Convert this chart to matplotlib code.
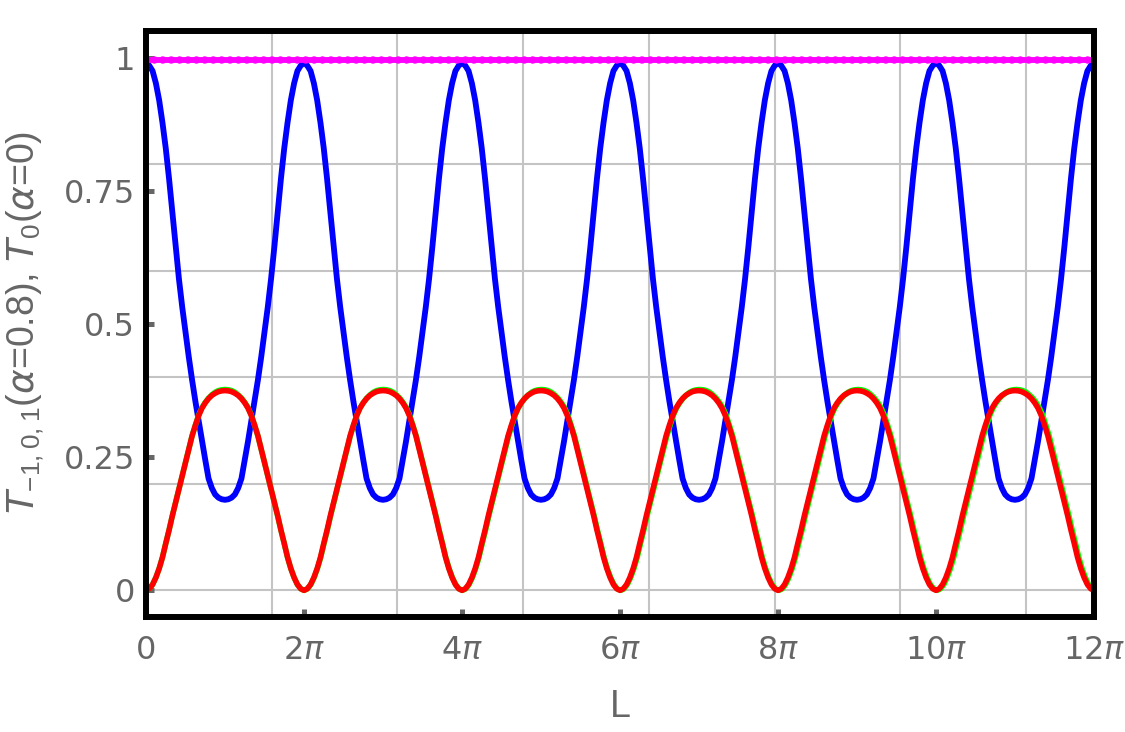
import numpy as np
import matplotlib
matplotlib.use("Agg")
import matplotlib.pyplot as plt
from matplotlib.ticker import FixedLocator, NullLocator

plt.rcParams['font.family'] = ['Liberation Sans', 'DejaVu Sans']
plt.rcParams['mathtext.fontset'] = 'custom'
plt.rcParams['mathtext.rm'] = 'Liberation Sans'
plt.rcParams['mathtext.it'] = 'DejaVu Sans:italic'
plt.rcParams['mathtext.bf'] = 'Liberation Sans:bold'

# ---------------- data ----------------
n_periods = 6
samples_per_period = 48
L = np.linspace(0, 12 * np.pi, n_periods * samples_per_period + 1)

blue_T = [
    0.99, 0.985, 0.975, 0.952, 0.92, 0.878, 0.83, 0.773, 0.71, 0.645, 0.585, 0.532, 0.485, 0.438, 0.395, 0.355, 0.318, 0.28, 0.245, 0.21, 0.192, 0.18, 0.174, 0.171, 0.17, 0.171, 0.174, 0.18, 0.192, 0.21, 0.245, 0.28, 0.318, 0.355, 0.395, 0.438, 0.485, 0.532, 0.585, 0.645, 0.71, 0.773, 0.83, 0.878, 0.92, 0.952, 0.975, 0.985,
    0.99, 0.985, 0.975, 0.952, 0.92, 0.878, 0.83, 0.773, 0.71, 0.645, 0.585, 0.532, 0.485, 0.438, 0.395, 0.355, 0.318, 0.28, 0.245, 0.21, 0.192, 0.18, 0.174, 0.171, 0.17, 0.171, 0.174, 0.18, 0.192, 0.21, 0.245, 0.28, 0.318, 0.355, 0.395, 0.438, 0.485, 0.532, 0.585, 0.645, 0.71, 0.773, 0.83, 0.878, 0.92, 0.952, 0.975, 0.985,
    0.99, 0.985, 0.975, 0.952, 0.92, 0.878, 0.83, 0.773, 0.71, 0.645, 0.585, 0.532, 0.485, 0.438, 0.395, 0.355, 0.318, 0.28, 0.245, 0.21, 0.192, 0.18, 0.174, 0.171, 0.17, 0.171, 0.174, 0.18, 0.192, 0.21, 0.245, 0.28, 0.318, 0.355, 0.395, 0.438, 0.485, 0.532, 0.585, 0.645, 0.71, 0.773, 0.83, 0.878, 0.92, 0.952, 0.975, 0.985,
    0.99, 0.985, 0.975, 0.952, 0.92, 0.878, 0.83, 0.773, 0.71, 0.645, 0.585, 0.532, 0.485, 0.438, 0.395, 0.355, 0.318, 0.28, 0.245, 0.21, 0.192, 0.18, 0.174, 0.171, 0.17, 0.171, 0.174, 0.18, 0.192, 0.21, 0.245, 0.28, 0.318, 0.355, 0.395, 0.438, 0.485, 0.532, 0.585, 0.645, 0.71, 0.773, 0.83, 0.878, 0.92, 0.952, 0.975, 0.985,
    0.99, 0.985, 0.975, 0.952, 0.92, 0.878, 0.83, 0.773, 0.71, 0.645, 0.585, 0.532, 0.485, 0.438, 0.395, 0.355, 0.318, 0.28, 0.245, 0.21, 0.192, 0.18, 0.174, 0.171, 0.17, 0.171, 0.174, 0.18, 0.192, 0.21, 0.245, 0.28, 0.318, 0.355, 0.395, 0.438, 0.485, 0.532, 0.585, 0.645, 0.71, 0.773, 0.83, 0.878, 0.92, 0.952, 0.975, 0.985,
    0.99, 0.985, 0.975, 0.952, 0.92, 0.878, 0.83, 0.773, 0.71, 0.645, 0.585, 0.532, 0.485, 0.438, 0.395, 0.355, 0.318, 0.28, 0.245, 0.21, 0.192, 0.18, 0.174, 0.171, 0.17, 0.171, 0.174, 0.18, 0.192, 0.21, 0.245, 0.28, 0.318, 0.355, 0.395, 0.438, 0.485, 0.532, 0.585, 0.645, 0.71, 0.773, 0.83, 0.878, 0.92, 0.952, 0.975, 0.985,
    0.99,
]

red_T = [
    0.0, 0.003, 0.011, 0.024, 0.041, 0.062, 0.088, 0.113, 0.14, 0.165, 0.19, 0.215, 0.24, 0.265, 0.29, 0.31, 0.328, 0.342, 0.352, 0.36, 0.366, 0.37, 0.373, 0.3745, 0.375, 0.3745, 0.373, 0.37, 0.366, 0.36, 0.352, 0.342, 0.328, 0.31, 0.29, 0.265, 0.24, 0.215, 0.19, 0.165, 0.14, 0.113, 0.088, 0.062, 0.041, 0.024, 0.011, 0.003,
    0.0, 0.003, 0.011, 0.024, 0.041, 0.062, 0.088, 0.113, 0.14, 0.165, 0.19, 0.215, 0.24, 0.265, 0.29, 0.31, 0.328, 0.342, 0.352, 0.36, 0.366, 0.37, 0.373, 0.3745, 0.375, 0.3745, 0.373, 0.37, 0.366, 0.36, 0.352, 0.342, 0.328, 0.31, 0.29, 0.265, 0.24, 0.215, 0.19, 0.165, 0.14, 0.113, 0.088, 0.062, 0.041, 0.024, 0.011, 0.003,
    0.0, 0.003, 0.011, 0.024, 0.041, 0.062, 0.088, 0.113, 0.14, 0.165, 0.19, 0.215, 0.24, 0.265, 0.29, 0.31, 0.328, 0.342, 0.352, 0.36, 0.366, 0.37, 0.373, 0.3745, 0.375, 0.3745, 0.373, 0.37, 0.366, 0.36, 0.352, 0.342, 0.328, 0.31, 0.29, 0.265, 0.24, 0.215, 0.19, 0.165, 0.14, 0.113, 0.088, 0.062, 0.041, 0.024, 0.011, 0.003,
    0.0, 0.003, 0.011, 0.024, 0.041, 0.062, 0.088, 0.113, 0.14, 0.165, 0.19, 0.215, 0.24, 0.265, 0.29, 0.31, 0.328, 0.342, 0.352, 0.36, 0.366, 0.37, 0.373, 0.3745, 0.375, 0.3745, 0.373, 0.37, 0.366, 0.36, 0.352, 0.342, 0.328, 0.31, 0.29, 0.265, 0.24, 0.215, 0.19, 0.165, 0.14, 0.113, 0.088, 0.062, 0.041, 0.024, 0.011, 0.003,
    0.0, 0.003, 0.011, 0.024, 0.041, 0.062, 0.088, 0.113, 0.14, 0.165, 0.19, 0.215, 0.24, 0.265, 0.29, 0.31, 0.328, 0.342, 0.352, 0.36, 0.366, 0.37, 0.373, 0.3745, 0.375, 0.3745, 0.373, 0.37, 0.366, 0.36, 0.352, 0.342, 0.328, 0.31, 0.29, 0.265, 0.24, 0.215, 0.19, 0.165, 0.14, 0.113, 0.088, 0.062, 0.041, 0.024, 0.011, 0.003,
    0.0, 0.003, 0.011, 0.024, 0.041, 0.062, 0.088, 0.113, 0.14, 0.165, 0.19, 0.215, 0.24, 0.265, 0.29, 0.31, 0.328, 0.342, 0.352, 0.36, 0.366, 0.37, 0.373, 0.3745, 0.375, 0.3745, 0.373, 0.37, 0.366, 0.36, 0.352, 0.342, 0.328, 0.31, 0.29, 0.265, 0.24, 0.215, 0.19, 0.165, 0.14, 0.113, 0.088, 0.062, 0.041, 0.024, 0.011, 0.003,
    0.0,
]

green_T = [
    0.0, 0.003, 0.011, 0.024, 0.041, 0.062, 0.088, 0.113, 0.14, 0.165, 0.19, 0.215, 0.24, 0.265, 0.29, 0.31, 0.329, 0.343, 0.353, 0.361, 0.367, 0.372, 0.375, 0.3765, 0.377, 0.3765, 0.375, 0.372, 0.367, 0.361, 0.353, 0.343, 0.329, 0.31, 0.29, 0.265, 0.24, 0.215, 0.19, 0.165, 0.14, 0.113, 0.088, 0.062, 0.041, 0.024, 0.011, 0.003,
    0.0, 0.003, 0.011, 0.024, 0.041, 0.062, 0.088, 0.113, 0.14, 0.165, 0.19, 0.215, 0.24, 0.265, 0.29, 0.31, 0.329, 0.343, 0.353, 0.361, 0.367, 0.372, 0.375, 0.3765, 0.377, 0.3765, 0.375, 0.372, 0.367, 0.361, 0.353, 0.343, 0.329, 0.31, 0.29, 0.265, 0.24, 0.215, 0.19, 0.165, 0.14, 0.113, 0.088, 0.062, 0.041, 0.024, 0.011, 0.003,
    0.0, 0.003, 0.011, 0.024, 0.041, 0.062, 0.088, 0.113, 0.14, 0.165, 0.19, 0.215, 0.24, 0.265, 0.29, 0.31, 0.329, 0.343, 0.353, 0.361, 0.367, 0.372, 0.375, 0.3765, 0.377, 0.3765, 0.375, 0.372, 0.367, 0.361, 0.353, 0.343, 0.329, 0.31, 0.29, 0.265, 0.24, 0.215, 0.19, 0.165, 0.14, 0.113, 0.088, 0.062, 0.041, 0.024, 0.011, 0.003,
    0.0, 0.003, 0.011, 0.024, 0.041, 0.062, 0.088, 0.113, 0.14, 0.165, 0.19, 0.215, 0.24, 0.265, 0.29, 0.31, 0.329, 0.343, 0.353, 0.361, 0.367, 0.372, 0.375, 0.3765, 0.377, 0.3765, 0.375, 0.372, 0.367, 0.361, 0.353, 0.343, 0.329, 0.31, 0.29, 0.265, 0.24, 0.215, 0.19, 0.165, 0.14, 0.113, 0.088, 0.062, 0.041, 0.024, 0.011, 0.003,
    0.0, 0.003, 0.011, 0.024, 0.041, 0.062, 0.088, 0.113, 0.14, 0.165, 0.19, 0.215, 0.24, 0.265, 0.29, 0.31, 0.329, 0.343, 0.353, 0.361, 0.367, 0.372, 0.375, 0.3765, 0.377, 0.3765, 0.375, 0.372, 0.367, 0.361, 0.353, 0.343, 0.329, 0.31, 0.29, 0.265, 0.24, 0.215, 0.19, 0.165, 0.14, 0.113, 0.088, 0.062, 0.041, 0.024, 0.011, 0.003,
    0.0, 0.003, 0.011, 0.024, 0.041, 0.062, 0.088, 0.113, 0.14, 0.165, 0.19, 0.215, 0.24, 0.265, 0.29, 0.31, 0.329, 0.343, 0.353, 0.361, 0.367, 0.372, 0.375, 0.3765, 0.377, 0.3765, 0.375, 0.372, 0.367, 0.361, 0.353, 0.343, 0.329, 0.31, 0.29, 0.265, 0.24, 0.215, 0.19, 0.165, 0.14, 0.113, 0.088, 0.062, 0.041, 0.024, 0.011, 0.003,
    0.0,
]
# small phase drift of the green curve, per period (radians)
green_shift = [0.0, 0.01, 0.02, 0.03, 0.04, 0.05]

magenta_L = [0.0, 12 * np.pi]
magenta_T = [0.995, 0.995]

x_ticks = [0, 2 * np.pi, 4 * np.pi, 6 * np.pi, 8 * np.pi, 10 * np.pi, 12 * np.pi]
x_ticklabels = ['0', r'2$\pi$', r'4$\pi$', r'6$\pi$', r'8$\pi$', r'10$\pi$', r'12$\pi$']
y_ticks = [0, 0.25, 0.5, 0.75, 1]
y_ticklabels = ['0', '0.25', '0.5', '0.75', '1']
grid_x = [5, 10, 15, 20, 25, 30, 35]
grid_y = [0, 0.2, 0.4, 0.6, 0.8, 1.0]

# ---------------- figure ----------------
W, H = 1125, 732
fig = plt.figure(figsize=(W / 100, H / 100), dpi=100)
ax = fig.add_axes([146 / W, 1 - 617 / H, (1094 - 146) / W, (617 - 31) / H])

gray = '#666666'
for gx in grid_x:
    ax.axvline(gx, color='#c4c4c4', lw=1.5, zorder=0.5)
for gy in grid_y:
    ax.axhline(gy, color='#c4c4c4', lw=1.5, zorder=0.5)

shift_per_sample = np.append(np.repeat(green_shift, samples_per_period), green_shift[-1])
green_L = L + shift_per_sample

ax.plot(L, blue_T, color='#0000ff', lw=4.2, zorder=3, solid_joinstyle='round')
ax.plot(green_L, green_T, color='#00ff00', lw=4.0, zorder=3.1, solid_joinstyle='round')
ax.plot(L, red_T, color='#ff0000', lw=4.0, zorder=3.2, solid_joinstyle='round')
ax.plot(magenta_L, magenta_T, color='#ff00ff', lw=4.2, zorder=3.3)
ax.plot(magenta_L, magenta_T, color='#ff00ff', lw=5.4, zorder=3.3,
        linestyle=(0, (0.001, 1.12)), dash_capstyle='round')

ax.set_xlim(0, 12 * np.pi)
ax.set_ylim(-0.05, 1.05)

ax.xaxis.set_major_locator(FixedLocator(x_ticks))
ax.set_xticklabels(x_ticklabels, fontfamily='DejaVu Sans')
ax.yaxis.set_major_locator(FixedLocator(y_ticks))
ax.set_yticklabels(y_ticklabels, fontfamily='DejaVu Sans')
ax.xaxis.set_minor_locator(NullLocator())
ax.yaxis.set_minor_locator(NullLocator())

ax.tick_params(axis='both', direction='in', length=5.5, width=3.6, color=gray,
               labelcolor=gray, labelsize=23)
ax.tick_params(axis='x', pad=13)
ax.tick_params(axis='y', pad=8)

for s in ax.spines.values():
    s.set_linewidth(4.3)
    s.set_color('black')
    s.set_zorder(5)

fig.text(620 / W, 1 - 707 / H, 'L', ha='center', va='center', fontsize=27, color=gray)
fig.text(25 / W, 1 - 322 / H, r'$T_{-1,0,1}$($\alpha$=0.8), $T_0$($\alpha$=0)',
         rotation=90, ha='center', va='center', fontsize=27, color=gray)

fig.savefig('out.png', dpi=100)
